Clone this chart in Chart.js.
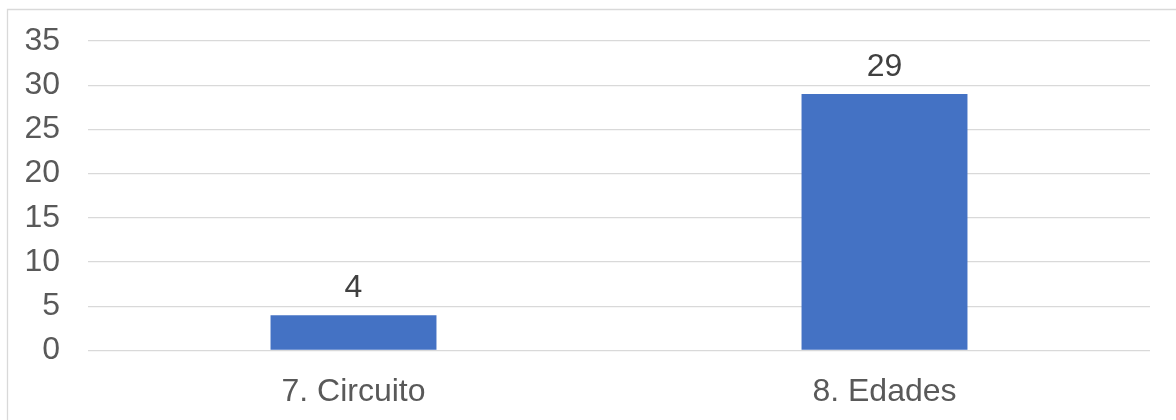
<!DOCTYPE html>
<html>
<head>
<meta charset="utf-8">
<script src="https://cdn.jsdelivr.net/npm/chart.js@4"></script>
<style>
  html, body { margin: 0; padding: 0; background: #fff; }
  #wrap { width: 1176px; height: 420px; }
</style>
</head>
<body>
<div id="wrap"><canvas id="chart" width="1176" height="420"></canvas></div>
<script>
const categories = ["7. Circuito", "8. Edades"];
const counts = [4, 29];
const yTicks = [0, 5, 10, 15, 20, 25, 30, 35];

const textColor = "#595959";
const fontFamily = "'Liberation Sans', Arial, sans-serif";
const fontSize = 32;

// Frame lines along the left and top edges
const framePlugin = {
    id: "frame",
    beforeDraw(chart) {
        const ctx = chart.ctx;
        ctx.save();
        ctx.strokeStyle = "#d9d9d9";
        ctx.lineWidth = 1.3;
        ctx.beginPath();
        ctx.moveTo(7.5, chart.height);
        ctx.lineTo(7.5, 9.5);
        ctx.lineTo(chart.width, 9.5);
        ctx.stroke();
        ctx.restore();
    }
};

// Value labels above each bar
const valueLabels = {
    id: "valueLabels",
    afterDatasetsDraw(chart) {
        const ctx = chart.ctx;
        const meta = chart.getDatasetMeta(0);
        ctx.save();
        ctx.fillStyle = "#404040";
        ctx.font = fontSize + "px " + fontFamily;
        ctx.textAlign = "center";
        ctx.textBaseline = "alphabetic";
        meta.data.forEach((bar, i) => {
            ctx.fillText(String(counts[i]), bar.x, bar.y - 18);
        });
        ctx.restore();
    }
};

new Chart(document.getElementById("chart"), {
    type: "bar",
    data: {
        labels: categories,
        datasets: [{
            data: counts,
            backgroundColor: "#4472C4",
            categoryPercentage: 1,
            barPercentage: 0.3125
        }]
    },
    options: {
        responsive: false,
        animation: false,
        layout: { padding: { top: 41, right: 26, left: 0, bottom: 0 } },
        plugins: {
            legend: { display: false },
            tooltip: { enabled: false }
        },
        scales: {
            x: {
                grid: { display: false, drawTicks: false },
                border: { display: false },
                ticks: {
                    color: textColor,
                    font: { family: fontFamily, size: fontSize },
                    padding: 22
                },
                afterFit(scale) {
                    scale.height = 69.5;
                    scale.paddingLeft = 0;
                    scale.paddingRight = 0;
                }
            },
            y: {
                min: 0,
                max: 35,
                afterBuildTicks(scale) {
                    scale.ticks = yTicks.map(v => ({ value: v }));
                },
                grid: { color: "#d9d9d9", lineWidth: 1.3, drawTicks: false },
                border: { display: false },
                ticks: {
                    color: textColor,
                    font: { family: fontFamily, size: fontSize },
                    padding: 28
                },
                afterFit(scale) {
                    scale.width = 88;
                    scale.paddingTop = 0;
                    scale.paddingBottom = 0;
                }
            }
        }
    },
    plugins: [framePlugin, valueLabels]
});
</script>
</body>
</html>
